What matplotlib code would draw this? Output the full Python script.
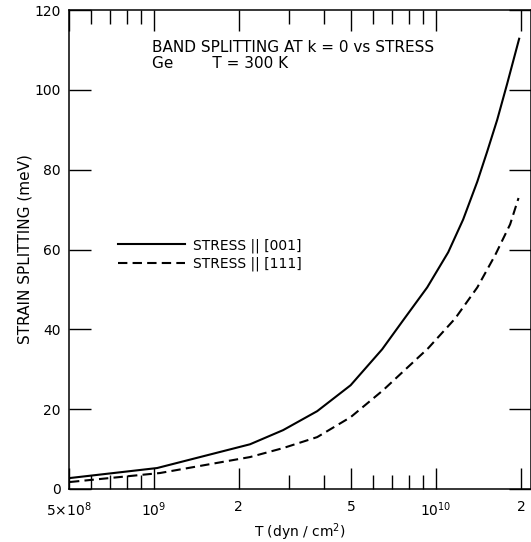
import matplotlib
matplotlib.use("Agg")
import matplotlib.pyplot as plt
from matplotlib.ticker import FixedLocator, NullFormatter

plt.rcParams['mathtext.default'] = 'regular'

# values
stress_001 = [5.04e8, 1.026e9, 2.19e9, 2.87e9, 3.79e9, 4.98e9, 6.44e9, 7.65e9,
              9.30e9, 1.104e10, 1.247e10, 1.40e10, 1.517e10, 1.647e10, 1.786e10, 1.97e10]
split_001 = [2.75, 5.25, 11.2, 14.75, 19.5, 26.0, 35.0, 42.3,
             50.5, 59.3, 67.5, 77.0, 84.5, 92.5, 101.5, 112.8]

stress_111 = [5.04e8, 1.05e9, 2.19e9, 2.87e9, 3.79e9, 4.98e9, 6.49e9, 9.37e9,
              1.168e10, 1.40e10, 1.62e10, 1.83e10, 1.96e10]
split_111 = [1.75, 4.0, 8.0, 10.25, 13.0, 18.0, 24.75, 35.25,
             42.7, 50.5, 58.6, 66.3, 72.9]

major_x = [5e8, 1e9, 2e9, 5e9, 1e10, 2e10]
major_x_labels = [r'5$\times$10$^{8}$', r'10$^{9}$', '2', '5', r'10$^{10}$', '2']
minor_x = [6e8, 7e8, 8e8, 9e8, 3e9, 4e9, 6e9, 7e9, 8e9, 9e9]
y_ticks = [0, 20, 40, 60, 80, 100, 120]

fig = plt.figure(figsize=(5.31, 5.42), dpi=100)
ax = fig.add_axes([69 / 531, 53 / 542, 462 / 531, 479 / 542])

ax.plot(stress_001, split_001, color='black', lw=1.5, label='STRESS || [001]')
ax.plot(stress_111, split_111, color='black', lw=1.5, linestyle=(0, (4.5, 2.5)),
        label='STRESS || [111]')

ax.set_xscale('log')
ax.set_xlim(5e8, 2.17e10)
ax.set_ylim(0, 120)

ax.xaxis.set_major_locator(FixedLocator(major_x))
ax.set_xticklabels(major_x_labels)
ax.xaxis.set_minor_locator(FixedLocator(minor_x))
ax.xaxis.set_minor_formatter(NullFormatter())
ax.set_yticks(y_ticks)

ax.tick_params(axis='x', which='major', direction='in', length=15, width=1,
               top=True, labelsize=10, pad=8)
ax.tick_params(axis='x', which='minor', direction='in', length=10, width=1, top=True)
ax.tick_params(axis='y', which='major', direction='in', length=16, width=1,
               right=True, labelsize=10, pad=6)
for s in ax.spines.values():
    s.set_linewidth(1.1)

ax.set_xlabel('T (dyn / cm$^{2}$)', fontsize=10, labelpad=2)
ax.set_ylabel('STRAIN SPLITTING (meV)', fontsize=11, labelpad=1)

fig.text(152 / 531, 1 - 48 / 542, 'BAND SPLITTING AT k = 0 vs STRESS',
         fontsize=11, va='center', ha='left')
fig.text(152 / 531, 1 - 64 / 542, 'Ge        T = 300 K',
         fontsize=11, va='center', ha='left')

ax.legend(loc='upper left', bbox_to_anchor=(0.08, 0.55), frameon=False,
          handlelength=4.8, fontsize=10, labelspacing=0.3, handletextpad=0.6)

fig.savefig('out.png', dpi=100)
